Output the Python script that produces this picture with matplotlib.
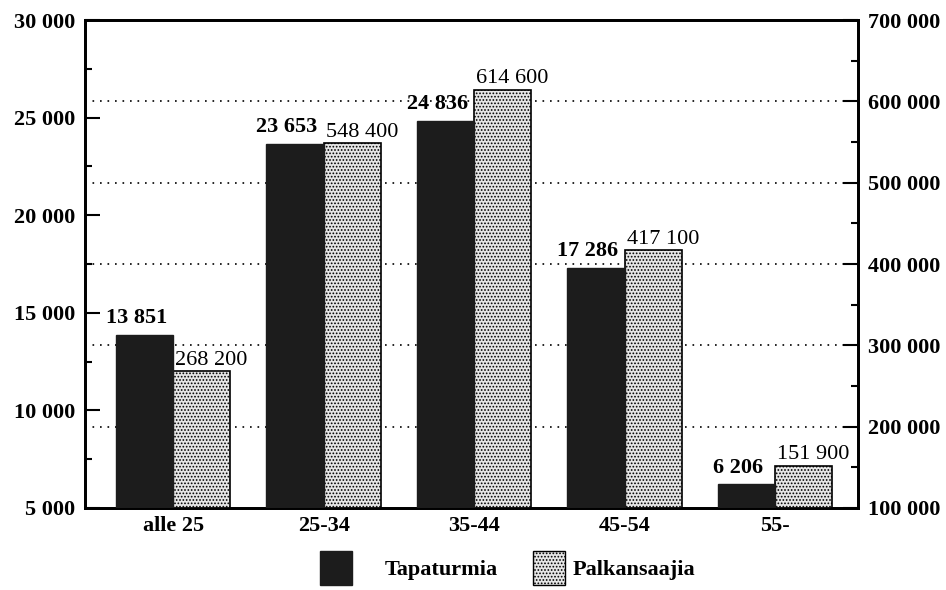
import matplotlib.pyplot as plt
import numpy as np
from matplotlib.patches import Patch
from matplotlib.ticker import FuncFormatter, MultipleLocator

plt.rcParams['font.family'] = ['Liberation Serif', 'DejaVu Serif']
plt.rcParams['hatch.color'] = '#808080'
plt.rcParams['hatch.linewidth'] = 0.8

# Data
categories = ["alle 25", "25-34", "35-44", "45-54", "55-"]
tapaturmia = [13851, 23653, 24836, 17286, 6206]
palkansaajia = [268200, 548400, 614600, 417100, 151900]

def fmt(v, pos=None):
    return f"{int(v):,}".replace(",", " ")

FS = 16
fig = plt.figure(figsize=(9.46, 5.9), dpi=100)
ax = fig.add_axes([0.0899, 0.139, 0.817, 0.827])
ax2 = ax.twinx()
# dark bars (left axis) drawn above the grid of the right axis
ax.set_zorder(ax2.get_zorder() + 1)
ax.patch.set_visible(False)

x = np.arange(len(categories))
w = 0.38
ax.bar(x - w / 2, tapaturmia, w, color='#1c1c1c', edgecolor='#1c1c1c', zorder=3)
ax2.bar(x + w / 2, palkansaajia, w, color='#e6e6e6', edgecolor='black',
        linewidth=1.2, hatch='.....', zorder=3)

ax.set_ylim(5000, 30000)
ax2.set_ylim(100000, 700000)
ax.set_xlim(-0.585, 4.55)

# dotted grid at right axis ticks
for g in [200000, 300000, 400000, 500000, 600000]:
    ax2.axhline(g, color='black', linestyle=(0, (1, 3.5)), linewidth=1.2, zorder=1)

ax.yaxis.set_major_locator(MultipleLocator(5000))
ax.yaxis.set_minor_locator(MultipleLocator(2500))
ax2.yaxis.set_major_locator(MultipleLocator(100000))
ax2.yaxis.set_minor_locator(MultipleLocator(50000))
ax.yaxis.set_major_formatter(FuncFormatter(fmt))
ax2.yaxis.set_major_formatter(FuncFormatter(fmt))

for a in (ax, ax2):
    a.tick_params(axis='y', which='major', direction='in', length=11, width=1.5,
                  labelsize=FS, pad=7)
    a.tick_params(axis='y', which='minor', direction='in', length=5, width=1.5)
    for s in a.spines.values():
        s.set_linewidth(2)
    for lab in a.get_yticklabels():
        lab.set_fontweight('bold')

ax.set_xticks(x)
ax.set_xticklabels(categories, fontsize=FS, fontweight='bold')
ax.tick_params(axis='x', length=0, pad=6)

for xi, v in zip(x, tapaturmia):
    ax.annotate(fmt(v), (xi - w / 2, v), xytext=(-6, 5), textcoords='offset points',
                ha='center', va='bottom', fontsize=FS, fontweight='bold', zorder=4)
for xi, v in zip(x, palkansaajia):
    ax2.annotate(fmt(v), (xi + w / 2, v), xytext=(7, 1), textcoords='offset points',
                 ha='center', va='bottom', fontsize=FS, zorder=4)

legprop = {'family': 'Liberation Serif', 'weight': 'bold', 'size': FS}
h1 = Patch(facecolor='#1c1c1c', edgecolor='#1c1c1c', label='Tapaturmia')
h2 = Patch(facecolor='#e6e6e6', edgecolor='black', hatch='.....', label='Palkansaajia')
leg1 = fig.legend(handles=[h1], loc='lower left', bbox_to_anchor=(0.338, 0.008),
                  frameon=False, handlelength=1.45, handleheight=2.0,
                  handletextpad=1.45, borderpad=0, borderaxespad=0, prop=legprop)
leg2 = fig.legend(handles=[h2], loc='lower left', bbox_to_anchor=(0.563, 0.008),
                  frameon=False, handlelength=1.45, handleheight=2.0,
                  handletextpad=0.35, borderpad=0, borderaxespad=0, prop=legprop)

fig.savefig('out.png', dpi=100)
